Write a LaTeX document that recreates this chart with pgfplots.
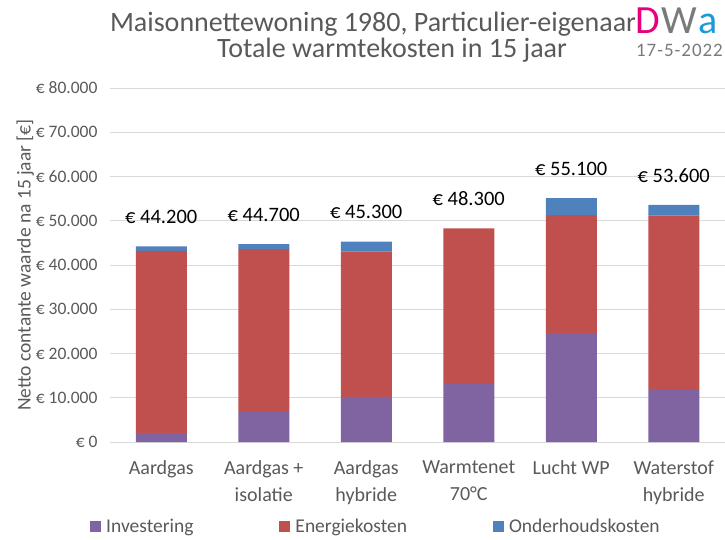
\documentclass[border=0pt]{standalone}
\usepackage{fontspec}
\setmainfont{Carlito}
\usepackage{pgfplots}
\usepackage{pgfplotstable}
\pgfplotsset{compat=1.18}
\definecolor{inv}{HTML}{8064A2}
\definecolor{ene}{HTML}{C0504D}
\definecolor{ond}{HTML}{4F81BD}
\definecolor{txt}{HTML}{595959}
\definecolor{grd}{HTML}{D9D9D9}
\definecolor{dwapink}{HTML}{E6007E}
\definecolor{dwagray}{HTML}{7A7A7A}
\definecolor{dwablue}{HTML}{1A9AD6}
\pgfplotstableread{
x inv ene ond tot
0 2000 41200 1000 44200
1 7000 36600 1100 44700
2 10200 32900 2200 45300
3 13300 35000 0 48300
4 24600 26700 3800 55100
5 11700 39500 2400 53600
}\data
\begin{document}
\begin{tikzpicture}
\useasboundingbox (0,0) rectangle (725pt,539pt);
\node[text=txt, font=\fontsize{28}{32}\selectfont] at (373pt,515pt) {Maisonnettewoning 1980, Particulier-eigenaar};
\node[text=txt, font=\fontsize{28}{32}\selectfont] at (392pt,489pt) {Totale warmtekosten in 15 jaar};
\node[anchor=west, inner sep=0, font=\fontsize{40}{40}\selectfont] at (635pt,518pt) {\textcolor{dwapink}{D}\kern1.5pt\textcolor{dwagray}{W}\kern2pt\textcolor{dwablue}{a}};
\node[anchor=east, inner sep=0, text=dwagray, font=\fontsize{19}{19}\selectfont] at (723pt,489pt) {\addfontfeature{LetterSpace=5}17-5-2022};
\begin{axis}[
  at={(110pt,97pt)}, anchor=south west,
  scale only axis, width=615pt, height=354pt,
  ybar stacked, bar width=51pt,
  clip=false,
  xmin=-0.5, xmax=5.5, ymin=0, ymax=80000,
  xtick=data,
  xticklabels={Aardgas, Aardgas +\\isolatie, Aardgas\\hybride, Warmtenet\\70°C, Lucht WP, Waterstof\\hybride},
  xticklabel style={align=center, text=txt, font=\fontsize{20}{27}\selectfont, yshift=-15pt},
  ytick={0,10000,...,80000},
  scaled y ticks=false,
  yticklabel={€ \pgfmathprintnumber{\tick}},
  /pgf/number format/.cd, 1000 sep={.}, assume math mode=true, /pgfplots/.cd,
  yticklabel style={text=txt, font=\fontsize{17.5}{19}\selectfont, xshift=-9pt},
  major tick length=0pt,
  ymajorgrids, grid style={grd, line width=0.8pt},
  axis lines*=left,
  y axis line style={draw=none},
  x axis line style={grd, line width=1pt},
  ylabel={Netto contante waarde na 15 jaar [€]},
  every axis y label/.style={at={(axis description cs:-0.138,0.5)}, rotate=90, anchor=center, text=txt, font=\fontsize{19.5}{21}\selectfont},
  legend columns=3,
  legend style={at={(axis description cs:-0.0325,-0.24)}, anchor=west, draw=none, fill=none, inner sep=0pt,
    font=\fontsize{19.5}{21}\selectfont, text=txt,
    /tikz/every even column/.append style={column sep=84pt}},
  legend image code/.code={\fill[#1] (0pt,-5.5pt) rectangle (11pt,5.5pt); \path (14pt,0pt);},
]
\addplot[fill=inv, draw=none] table[x=x, y=inv] {\data};
\addplot[fill=ene, draw=none] table[x=x, y=ene] {\data};
\addplot[fill=ond, draw=none] table[x=x, y=ond] {\data};
\addplot[draw=none, fill=none, nodes near coords={€ \pgfmathprintnumber{\pgfplotspointmeta}}, point meta=explicit,
  nodes near coords style={anchor=south, yshift=19pt, text=black, font=\fontsize{20.5}{22}\selectfont}]
  table[x=x, y expr=0.01, meta=tot] {\data};
\legend{Investering, Energiekosten, Onderhoudskosten}
\end{axis}
\end{tikzpicture}
\end{document}
